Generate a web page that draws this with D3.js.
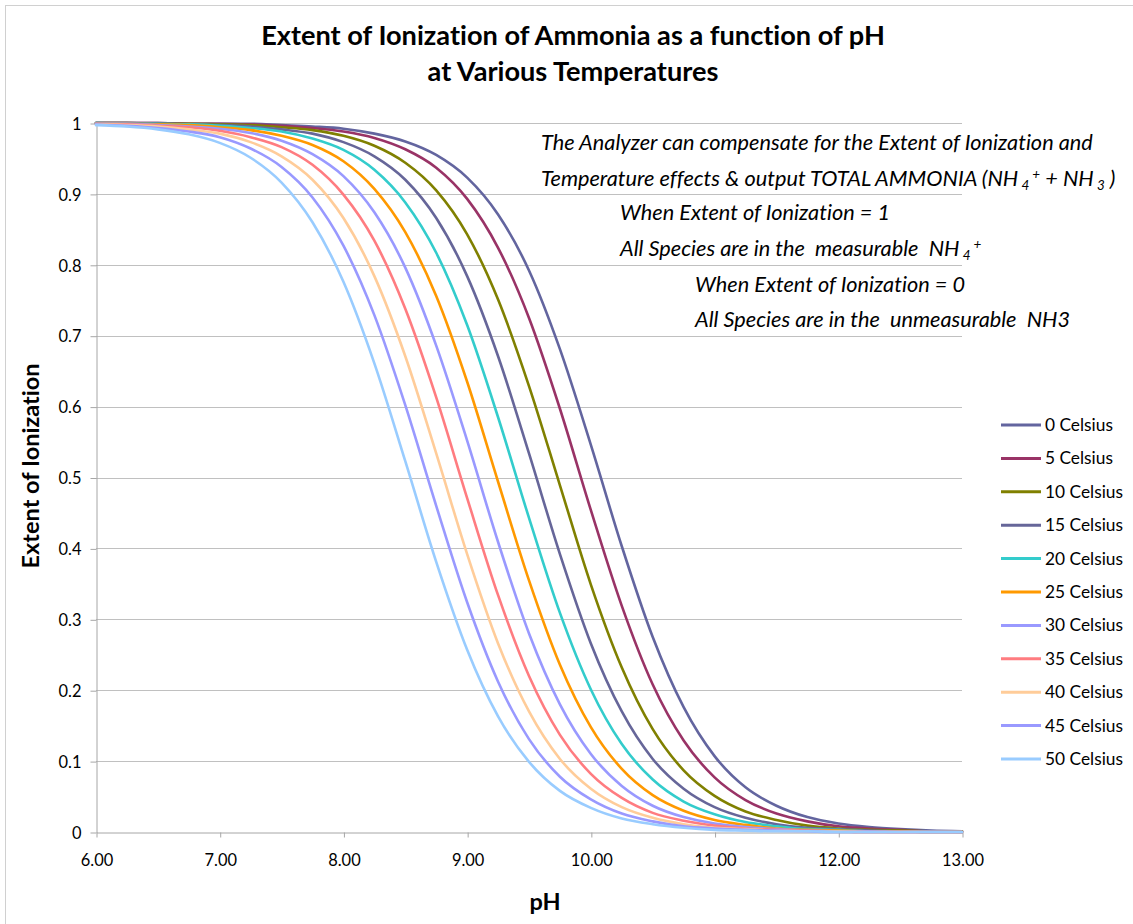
<!DOCTYPE html>
<html><head><meta charset="utf-8">
<script src="https://cdn.jsdelivr.net/npm/d3@7"></script>
<style>
body{margin:0;background:#fff;}
svg{display:block;}
text{font-family:Lato,'Open Sans',sans-serif;fill:#000;white-space:pre;font-variant-ligatures:none;font-feature-settings:"liga" 0;}
</style>
</head><body>
<svg id="chart" width="1133" height="924"></svg>
<script>
// ---- data ----
const phValues = [6.00,6.25,6.50,6.75,7.00,7.25,7.50,7.75,8.00,8.25,8.50,8.75,9.00,9.25,9.50,9.75,10.00,10.25,10.50,10.75,11.00,11.25,11.50,11.75,12.00,12.25,12.50,12.75,13.00];
const seriesNames = ["0 Celsius","5 Celsius","10 Celsius","15 Celsius","20 Celsius","25 Celsius","30 Celsius","35 Celsius","40 Celsius","45 Celsius","50 Celsius"];
const ion0  = [1.000,1.000,1.000,0.999,0.999,0.999,0.997,0.995,0.992,0.985,0.974,0.955,0.923,0.871,0.792,0.681,0.546,0.403,0.275,0.176,0.107,0.063,0.037,0.021,0.012,0.007,0.004,0.002,0.001];
const ion5  = [1.000,1.000,1.000,0.999,0.999,0.998,0.996,0.993,0.988,0.979,0.963,0.937,0.893,0.824,0.725,0.597,0.454,0.319,0.208,0.129,0.077,0.045,0.026,0.015,0.008,0.005,0.003,0.001,0.001];
const ion10 = [1.000,1.000,0.999,0.999,0.998,0.997,0.994,0.990,0.982,0.968,0.944,0.905,0.843,0.751,0.629,0.489,0.349,0.232,0.145,0.087,0.051,0.029,0.017,0.009,0.005,0.003,0.002,0.001,0.001];
const ion15 = [1.000,1.000,0.999,0.998,0.997,0.995,0.991,0.985,0.973,0.953,0.920,0.866,0.784,0.671,0.534,0.392,0.266,0.170,0.103,0.061,0.035,0.020,0.011,0.006,0.004,0.002,0.001,0.001,0.000];
const ion20 = [1.000,0.999,0.999,0.998,0.996,0.993,0.988,0.978,0.962,0.934,0.888,0.817,0.715,0.585,0.443,0.309,0.201,0.124,0.074,0.043,0.025,0.014,0.008,0.004,0.003,0.001,0.001,0.000,0.000];
const ion25 = [0.999,0.999,0.998,0.997,0.994,0.990,0.982,0.969,0.946,0.907,0.846,0.756,0.635,0.494,0.355,0.236,0.148,0.089,0.052,0.030,0.017,0.010,0.005,0.003,0.002,0.001,0.001,0.000,0.000];
const ion30 = [0.999,0.999,0.997,0.995,0.992,0.986,0.975,0.956,0.925,0.874,0.796,0.686,0.552,0.409,0.280,0.180,0.110,0.065,0.037,0.021,0.012,0.007,0.004,0.002,0.001,0.001,0.000,0.000,0.000];
const ion35 = [0.999,0.998,0.996,0.994,0.989,0.980,0.966,0.941,0.899,0.834,0.738,0.613,0.471,0.334,0.220,0.137,0.082,0.048,0.027,0.016,0.009,0.005,0.003,0.002,0.001,0.000,0.000,0.000,0.000];
const ion40 = [0.998,0.997,0.995,0.991,0.985,0.973,0.953,0.920,0.866,0.784,0.671,0.534,0.392,0.266,0.170,0.103,0.061,0.035,0.020,0.011,0.006,0.004,0.002,0.001,0.001,0.000,0.000,0.000,0.000];
const ion45 = [0.998,0.996,0.993,0.988,0.980,0.964,0.938,0.895,0.827,0.729,0.602,0.460,0.324,0.212,0.131,0.078,0.046,0.026,0.015,0.008,0.005,0.003,0.002,0.001,0.000,0.000,0.000,0.000,0.000];
const ion50 = [0.997,0.995,0.991,0.984,0.972,0.951,0.916,0.860,0.776,0.661,0.523,0.381,0.257,0.163,0.099,0.058,0.034,0.019,0.011,0.006,0.003,0.002,0.001,0.001,0.000,0.000,0.000,0.000,0.000];
const xTickValues = [6,7,8,9,10,11,12,13];
const yTickValues = [0,0.1,0.2,0.3,0.4,0.5,0.6,0.7,0.8,0.9,1];

// ---- styling ----
const seriesValues = [ion0,ion5,ion10,ion15,ion20,ion25,ion30,ion35,ion40,ion45,ion50];
const seriesColors = ["#63659f","#993366","#808000","#666699","#33cccc","#ff9900","#9999ff","#ff7c80","#ffcc99","#9999ff","#99ccff"];

const svg = d3.select("#chart");
const W = 1133, H = 924;
svg.append("rect").attr("width",W).attr("height",H).attr("fill","#fff");
// chart frame (only left/top visible in picture)
svg.append("rect").attr("x",5.5).attr("y",5.5).attr("width",1300).attr("height",1300)
  .attr("fill","none").attr("stroke","#d0d0d0");

const x = d3.scaleLinear().domain([6,13]).range([96,962]);
const y = d3.scaleLinear().domain([0,1]).range([832,123]);

function fit(sel, target){
  const w = sel.node().getComputedTextLength();
  const fs = parseFloat(sel.attr("font-size"));
  const nf = fs*target/w;
  sel.attr("font-size", nf);
  return nf;
}

// gridlines
svg.append("g").selectAll("line").data(yTickValues.filter(d=>d>0)).join("line")
  .attr("x1",x(6)).attr("x2",x(13))
  .attr("y1",d=>Math.round(y(d))+0.5).attr("y2",d=>Math.round(y(d))+0.5)
  .attr("stroke","#c0c0c0").attr("stroke-width",1);

// axes
const yAxis = svg.append("g").attr("transform",`translate(${x(6)+0.5},0.5)`)
  .call(d3.axisLeft(y).tickValues(yTickValues).tickFormat(d=>String(+d.toFixed(1))).tickSize(6).tickSizeOuter(0).tickPadding(9));
const xAxis = svg.append("g").attr("transform",`translate(0.5,${Math.round(y(0))+0.5})`)
  .call(d3.axisBottom(x).tickValues(xTickValues).tickFormat(d3.format(".2f")).tickSize(5).tickSizeOuter(0));
[yAxis,xAxis].forEach(a=>{
  a.select(".domain").attr("stroke","#a6a6a6");
  a.selectAll(".tick line").attr("stroke","#a6a6a6");
  a.selectAll("text").attr("font-family","Lato,'Open Sans',sans-serif").attr("fill","#000");
});
xAxis.selectAll(".tick text").attr("y",28).attr("dy","0.35em");
yAxis.selectAll(".tick text").attr("dy","0.35em");

// tick font size fitted on "13.00"
const probe = svg.append("text").attr("font-size",15).text("13.00");
const tickFs = fit(probe, 42); probe.remove();
svg.selectAll(".tick text").attr("font-size",tickFs);

// series
const line = d3.line().x((d,i)=>x(phValues[i])).y(d=>y(d)).curve(d3.curveMonotoneX);
svg.append("g").selectAll("path").data(seriesValues).join("path")
  .attr("d",d=>line(d)).attr("fill","none")
  .attr("stroke",(d,i)=>seriesColors[i]).attr("stroke-width",2.6)
  .attr("stroke-linejoin","round").attr("stroke-linecap","round");

// title
const t1 = svg.append("text").attr("x",573).attr("y",45).attr("text-anchor","middle")
  .attr("font-weight","bold").attr("font-size",24).text("Extent of Ionization of Ammonia as a function of pH");
const titleFs = fit(t1,624);
svg.append("text").attr("x",573).attr("y",81).attr("text-anchor","middle")
  .attr("font-weight","bold").attr("font-size",titleFs).text("at Various Temperatures");

// axis titles
const yl = svg.append("text").attr("transform","translate(39,466) rotate(-90)").attr("text-anchor","middle")
  .attr("font-weight","bold").attr("font-size",20).text("Extent of Ionization");
const axFs = fit(yl,205);
svg.append("text").attr("x",545).attr("y",910).attr("text-anchor","middle")
  .attr("font-weight","bold").attr("font-size",axFs).text("pH");

// annotation
const ann = svg.append("g").attr("font-style","italic");
const a1 = ann.append("text").attr("x",541).attr("y",150).attr("font-size",18)
  .text("The Analyzer can compensate for the Extent of Ionization and");
const annFs = fit(a1,552);
const small = annFs*0.62;
const a2 = ann.append("text").attr("x",541).attr("y",186).attr("font-size",annFs)
  .text("Temperature effects & output TOTAL AMMONIA (NH");
a2.append("tspan").attr("font-size",small).attr("dy",4).text(" 4");
a2.append("tspan").attr("font-size",small).attr("dy",-11).text(" +");
a2.append("tspan").attr("dy",7).text(" + NH");
a2.append("tspan").attr("font-size",small).attr("dy",4).text(" 3");
a2.append("tspan").attr("dy",-4).text(" )");
ann.append("text").attr("x",620).attr("y",220).attr("font-size",annFs).text("When Extent of Ionization = 1");
const a4 = ann.append("text").attr("x",620).attr("y",256).attr("font-size",annFs)
  .text("All Species are in the  measurable  NH");
a4.append("tspan").attr("font-size",small).attr("dy",4).text(" 4");
a4.append("tspan").attr("font-size",small).attr("dy",-11).text(" +");
ann.append("text").attr("x",695).attr("y",292).attr("font-size",annFs).text("When Extent of Ionization = 0");
ann.append("text").attr("x",695).attr("y",327).attr("font-size",annFs).text("All Species are in the  unmeasurable  NH3");

// legend
const lg = svg.append("g");
const lp = lg.append("text").attr("font-size",14).text("10 Celsius");
const legFs = fit(lp,78); lp.remove();
seriesNames.forEach((name,i)=>{
  const yy = 425 + i*33.4;
  lg.append("line").attr("x1",1001).attr("x2",1041).attr("y1",yy).attr("y2",yy)
    .attr("stroke",seriesColors[i]).attr("stroke-width",3);
  lg.append("text").attr("x",1045).attr("y",yy).attr("dy","0.35em").attr("font-size",legFs).text(name);
});
</script>
</body></html>
